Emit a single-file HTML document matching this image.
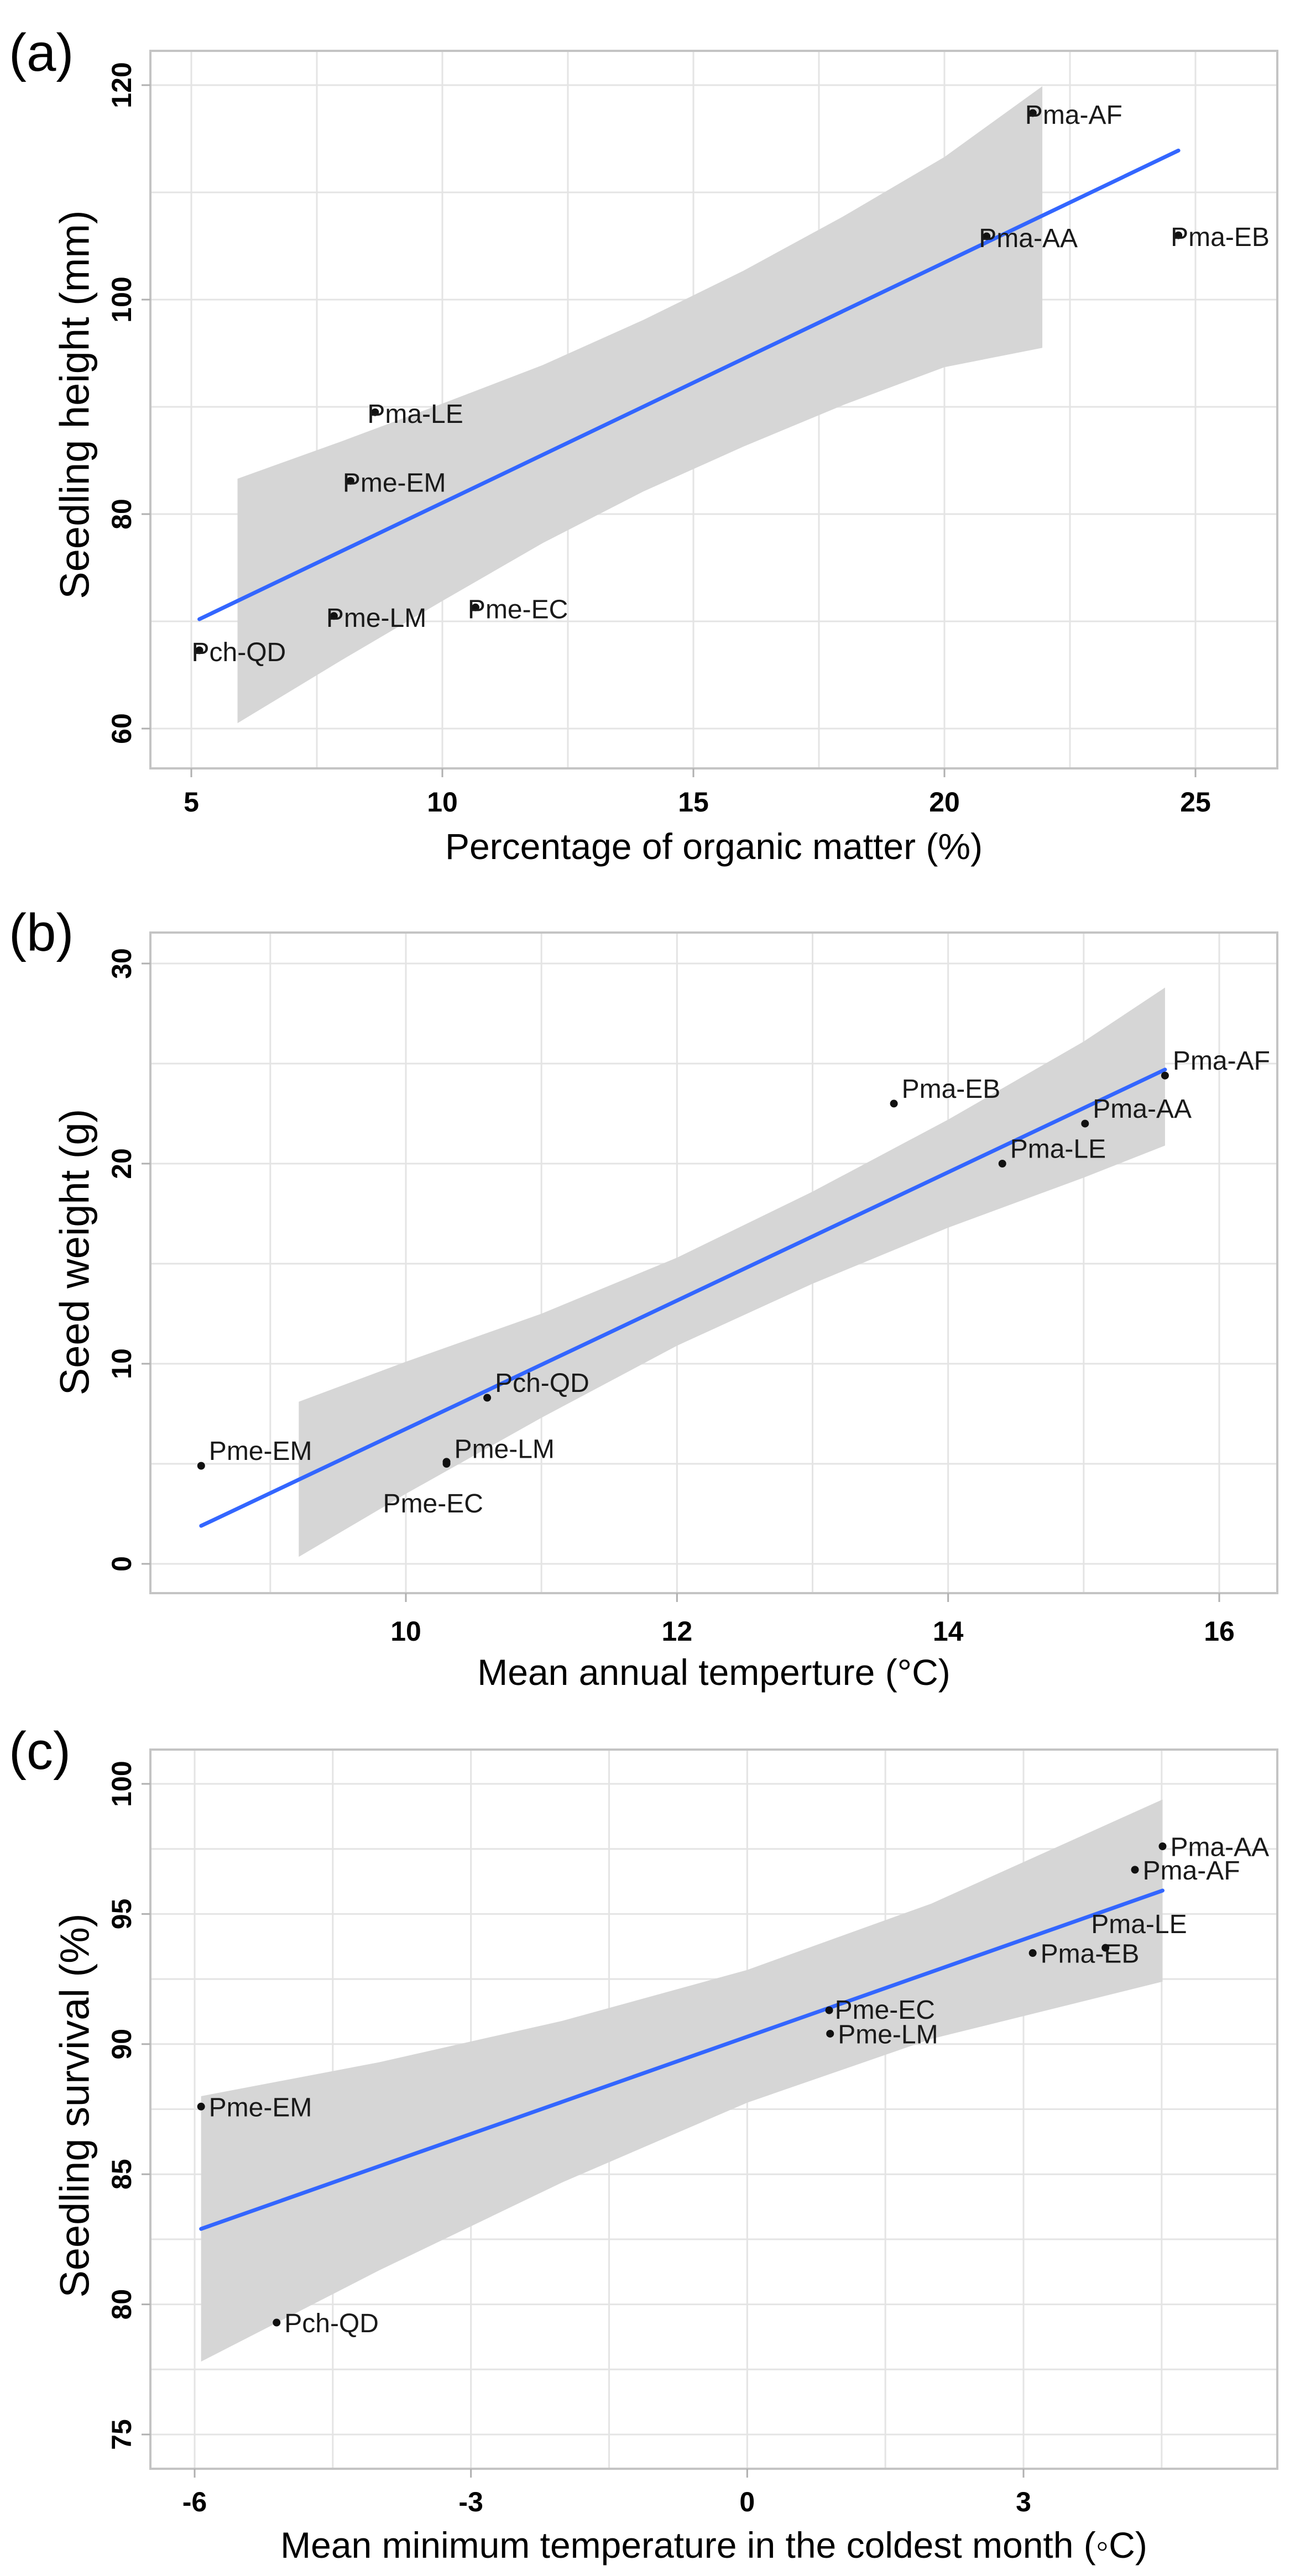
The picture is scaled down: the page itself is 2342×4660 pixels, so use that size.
<!DOCTYPE html>
<html><head><meta charset="utf-8">
<style>
html,body{margin:0;padding:0;background:#fff;}
svg{display:block;}
text{font-family:"Liberation Sans",sans-serif;}
.tick{font-weight:bold;font-size:50px;fill:#000;}
.ttl{font-size:66px;fill:#000;}
.yttl{font-size:74px;fill:#000;}
.lab{font-size:48px;fill:#1a1a1a;}
.pan{font-size:96px;fill:#000;}
</style></head>
<body>
<svg id="fig" width="2342" height="4660" viewBox="0 0 2342 4660" xmlns="http://www.w3.org/2000/svg"></svg>
<script>
// ---- Panel (a) data ----
const aLabels = ["Pch-QD","Pme-LM","Pme-EC","Pme-EM","Pma-LE","Pma-AA","Pma-AF","Pma-EB"];
const aX = [5.16,7.84,10.66,8.17,8.66,20.84,21.76,24.66];
const aY = [67.3,70.5,71.3,83.1,89.5,105.9,117.4,106.0];
const aFitX = [5.16,24.66];
const aFitY = [70.2,113.9];
const aBandX = [5.92,8,10,12,14,16,18,20,21.95];
const aBandUp = [83.3,86.8,90.3,93.9,98.1,102.7,107.8,113.3,119.9];
const aBandLo = [60.5,66.4,71.9,77.3,82.1,86.3,90.2,93.7,95.5];
const aXTicks = [5,10,15,20,25];
const aYTicks = [60,80,100,120];
// ---- Panel (b) data ----
const bLabels = ["Pme-EM","Pme-LM","Pme-EC","Pch-QD","Pma-EB","Pma-LE","Pma-AA","Pma-AF"];
const bX = [8.49,10.30,10.30,10.60,13.60,14.40,15.01,15.60];
const bY = [4.9,5.0,5.1,8.3,23.0,20.0,22.0,24.4];
const bFitX = [8.49,15.6];
const bFitY = [1.9,24.7];
const bBandX = [9.21,10,11,12,13,14,15,15.6];
const bBandUp = [8.1,10.1,12.5,15.3,18.6,22.2,26.1,28.8];
const bBandLo = [0.35,3.5,7.3,10.9,14.0,16.8,19.3,20.9];
const bXTicks = [10,12,14,16];
const bYTicks = [0,10,20,30];
// ---- Panel (c) data ----
const cLabels = ["Pme-EM","Pch-QD","Pme-EC","Pme-LM","Pma-EB","Pma-LE","Pma-AF","Pma-AA"];
const cX = [-5.93,-5.11,0.89,0.90,3.10,3.89,4.21,4.51];
const cY = [87.6,79.3,91.3,90.4,93.5,93.7,96.7,97.6];
const cFitX = [-5.93,4.51];
const cFitY = [82.9,95.9];
const cBandX = [-5.93,-4,-2,0,2,4.51];
const cBandUp = [88.0,89.3,90.9,92.85,95.4,99.4];
const cBandLo = [77.8,81.3,84.7,87.75,90.2,92.4];
const cXTicks = [-6,-3,0,3];
const cYTicks = [75,80,85,90,95,100];

const NS = "http://www.w3.org/2000/svg";
const fig = document.getElementById("fig");
function mk(tag, attrs, parent){
  const e = document.createElementNS(NS, tag);
  for (const k in attrs) e.setAttribute(k, attrs[k]);
  (parent||fig).appendChild(e);
  return e;
}

function panel(cfg){
  const g = mk("g", {});
  
  
  const sx = v => cfg.px0 + (v - cfg.vx0) * (cfg.px1 - cfg.px0) / (cfg.vx1 - cfg.vx0);
  const sy = v => cfg.py0 + (v - cfg.vy0) * (cfg.py1 - cfg.py0) / (cfg.vy1 - cfg.vy0);
  const L = cfg.left, R = cfg.right, T = cfg.top, B = cfg.bottom;
  const xMax = cfg.vx0 + (R - cfg.px0) * (cfg.vx1 - cfg.vx0) / (cfg.px1 - cfg.px0);
  const xs = cfg.xTicks, ys = cfg.yTicks;
  const dx = xs[1]-xs[0], dy = ys[1]-ys[0];
  for (let v = xs[0]-dx/2; v <= xMax; v += dx/2){
    const X = sx(v); if (X < L+2 || X > R-2) continue;
    const ln = mk("line",{x1:X,x2:X,y1:T,y2:B,stroke:"#e4e4e4","stroke-width":3},g);
    
    
  }
  for (let v = ys[0]-dy/2; v <= ys[ys.length-1]+dy; v += dy/2){
    const Y = sy(v); if (Y < T+2 || Y > B-2) continue;
    const ln = mk("line",{x1:L,x2:R,y1:Y,y2:Y,stroke:"#e4e4e4","stroke-width":3},g);
    
    
  }
  let d = "";
  cfg.bandX.forEach((x,i)=>{ d += (i? "L":"M") + sx(x) + " " + sy(cfg.bandUp[i]) + " "; });
  for (let i = cfg.bandX.length-1; i >= 0; i--) d += "L" + sx(cfg.bandX[i]) + " " + sy(cfg.bandLo[i]) + " ";
  const band = mk("path",{d:d+"Z",fill:"#d6d6d6"},g);
  
  
  const fl = mk("line",{x1:sx(cfg.fitX[0]),y1:sy(cfg.fitY[0]),x2:sx(cfg.fitX[1]),y2:sy(cfg.fitY[1]),stroke:"#3366ff","stroke-width":7,"stroke-linecap":"round"},g);
  
  
  const bd = mk("rect",{x:L,y:T,width:R-L,height:B-T,fill:"none",stroke:"#c4c4c4","stroke-width":4},g);
  
  
  xs.forEach(v=>{
    const X = sx(v);
    mk("line",{x1:X,x2:X,y1:B,y2:B+16,stroke:"#b0b0b0","stroke-width":3},g);
    const t = mk("text",{x:X,y:cfg.xTickY,"text-anchor":"middle",class:"tick"},g);
    
    
    t.textContent = v;
  });
  ys.forEach(v=>{
    const Y = sy(v);
    mk("line",{x1:L-16,x2:L,y1:Y,y2:Y,stroke:"#b0b0b0","stroke-width":3},g);
    const t = mk("text",{x:0,y:0,"text-anchor":"middle","dominant-baseline":"central",class:"tick",transform:"translate(220,"+Y+") rotate(-90)"},g);
    
    
    t.textContent = v;
  });
  cfg.x.forEach((x,i)=>{
    const X = sx(x), Y = sy(cfg.y[i]);
    const c = mk("circle",{cx:X,cy:Y,r:7,fill:"#111"},g);
    
    
    const n = cfg.nudge[i];
    const t = mk("text",{x:X+n[0],y:Y+n[1],"dominant-baseline":"central",class:"lab"},g);
    
    
    t.textContent = cfg.labels[i];
  });
  const xt = mk("text",{x:(L+R)/2,y:cfg.xTitleY,"text-anchor":"middle",class:"ttl"},g);
  
  
  xt.textContent = cfg.xTitle;
  const yt = mk("text",{x:0,y:0,"text-anchor":"middle","dominant-baseline":"central",class:"yttl",transform:"translate(135,"+cfg.yTitleCY+") rotate(-90)"},g);
  
  
  yt.textContent = cfg.yTitle;
  const pl = mk("text",{x:16,y:cfg.panelY,class:"pan"},g);
  
  
  pl.textContent = "(" + cfg.id + ")";
}

panel({id:"a", left:272,right:2310,top:92,bottom:1390,
  vx0:5,vx1:25,px0:346,px1:2162, vy0:60,vy1:120,py0:1318,py1:154,
  xTicks:aXTicks,yTicks:aYTicks,x:aX,y:aY,labels:aLabels,fitX:aFitX,fitY:aFitY,
  bandX:aBandX,bandUp:aBandUp,bandLo:aBandLo,
  nudge:[[-14,4],[-14,4],[-14,4],[-14,4],[-14,4],[-14,4],[-14,4],[-14,4]],
  xTickY:1468,xTitleY:1554,xTitle:"Percentage of organic matter (%)",
  yTitle:"Seedling height (mm)",yTitleCY:732,panelY:128});

panel({id:"b", left:272,right:2310,top:1687,bottom:2882,
  vx0:10,vx1:16,px0:734,px1:2205, vy0:0,vy1:30,py0:2829,py1:1743,
  xTicks:bXTicks,yTicks:bYTicks,x:bX,y:bY,labels:bLabels,fitX:bFitX,fitY:bFitY,
  bandX:bBandX,bandUp:bBandUp,bandLo:bBandLo,
  nudge:[[14,-26],[14,-26],[-115,76],[14,-26],[14,-26],[14,-26],[14,-26],[14,-26]],
  xTickY:2968,xTitleY:3048,xTitle:"Mean annual temperture (°C)",
  yTitle:"Seed weight (g)",yTitleCY:2265,panelY:1720});

panel({id:"c", left:272,right:2310,top:3165,bottom:4466,
  vx0:-6,vx1:3,px0:352,px1:1851, vy0:75,vy1:100,py0:4404,py1:3227,
  xTicks:cXTicks,yTicks:cYTicks,x:cX,y:cY,labels:cLabels,fitX:cFitX,fitY:cFitY,
  bandX:cBandX,bandUp:cBandUp,bandLo:cBandLo,
  nudge:[[14,2],[14,2],[10,0],[14,2],[14,2],[-26,-42],[14,2],[14,2]],
  xTickY:4543,xTitleY:4627,xTitle:"Mean minimum temperature in the coldest month (◦C)",
  yTitle:"Seedling survival (%)",yTitleCY:3809,panelY:3200});
</script>
</body></html>
